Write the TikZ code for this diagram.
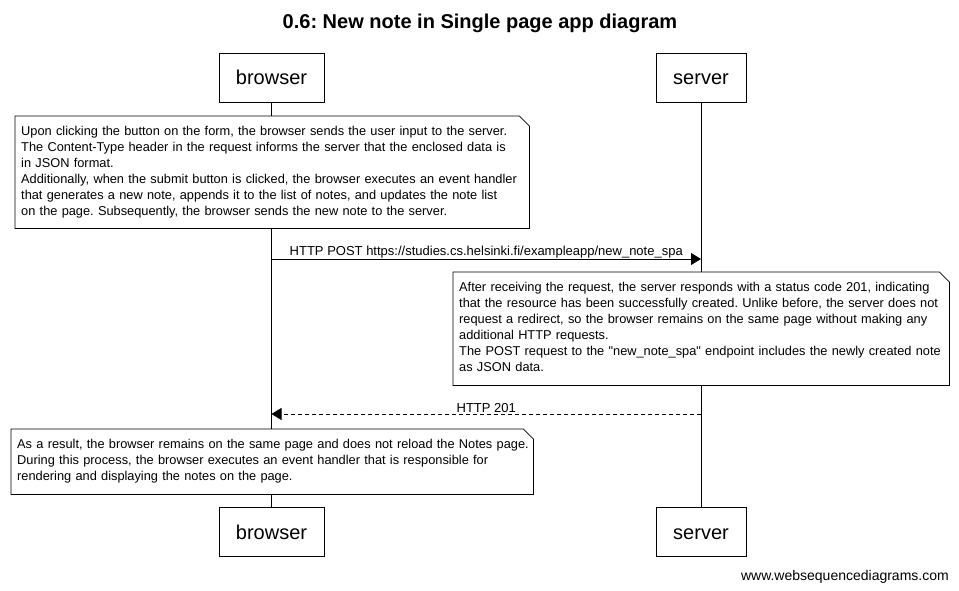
\documentclass[tikz,border=0pt]{standalone}
\usepackage{fontspec}
\setmainfont{Liberation Sans}
\usetikzlibrary{arrows.meta}
\frenchspacing
\tikzset{
  part/.style={draw, line width=0.8pt, minimum height=49pt, inner sep=0pt, text height=19pt, text depth=4pt, font=\fontsize{20}{24}\selectfont},
  notebox/.style={fill=white, draw=none, inner xsep=6pt, inner ysep=0pt, anchor=north west, align=left, font=\fontsize{12.8}{16}\selectfont},
  noteline/.style={line width=0.8pt},
  life/.style={line width=0.8pt},
  msg/.style={line width=0.8pt, -{Triangle[length=10pt,width=12pt]}},
  lbl/.style={font=\fontsize{13}{15}\selectfont, inner sep=0pt},
}
\newcommand\foldoutline[1]{%
  \draw[noteline] (#1.north west) -- ([xshift=-10pt]#1.north east) -- ([yshift=-10pt]#1.north east) -- (#1.south east) -- (#1.south west) -- cycle;}
\begin{document}
\begin{tikzpicture}[x=1pt,y=-1pt]
\useasboundingbox (0,0) rectangle (959,591);
\fill[white] (0,0) rectangle (959,591);
\node[font=\bfseries\fontsize{20}{24}\selectfont] (title) at (480,23) {0.6: New note in Single page app diagram};
% participants
\node[part, minimum width=105pt] (b1) at (271.5,77.5) {browser};
\node[part, minimum width=90pt] (s1) at (701,77.5) {server};
\node[part, minimum width=105pt] (b2) at (271.5,531.5) {browser};
\node[part, minimum width=90pt] (s2) at (701,531.5) {server};
\draw[life] (b1.south) -- (b2.north);
\draw[life] (s1.south) -- (s2.north);
% note 1
\node[notebox, text width=502pt, minimum width=514pt, minimum height=112pt] (n1) at (15,116) {\begin{tabular}{@{}l@{}}Upon clicking the button on the form, the browser sends the user input to the server.\\The Content-Type header in the request informs the server that the enclosed data is\\in JSON format.\\Additionally, when the submit button is clicked, the browser executes an event handler\\that generates a new note, appends it to the list of notes, and updates the note list\\on the page. Subsequently, the browser sends the new note to the server.\end{tabular}};
\foldoutline{n1}
% message 1
\coordinate (m1a) at (271.5,259);
\coordinate (m1b) at (701,259);
\draw[msg] (m1a) -- (m1b) node[lbl, midway, above=0.5pt] (l1) {HTTP POST https://studies.cs.helsinki.fi/exampleapp/new\_note\_spa};
% note 2
\node[notebox, text width=484pt, minimum width=496pt, minimum height=113pt] (n2) at (453,272) {\begin{tabular}{@{}l@{}}After receiving the request, the server responds with a status code 201, indicating\\that the resource has been successfully created. Unlike before, the server does not\\request a redirect, so the browser remains on the same page without making any\\additional HTTP requests.\\The POST request to the \textquotedbl new\_note\_spa\textquotedbl{} endpoint includes the newly created note\\as JSON data.\end{tabular}};
\foldoutline{n2}
% message 2
\coordinate (m2a) at (701,414);
\coordinate (m2b) at (271.5,414);
\draw[msg, dashed, dash pattern=on 4pt off 3pt] (m2a) -- (m2b) node[lbl, midway, above=1pt] (l2) {HTTP 201};
% note 3
\node[notebox, text width=510pt, minimum width=522pt, minimum height=65pt] (n3) at (11,429) {\begin{tabular}{@{}l@{}}As a result, the browser remains on the same page and does not reload the Notes page.\\During this process, the browser executes an event handler that is responsible for\\rendering and displaying the notes on the page.\end{tabular}};
\foldoutline{n3}
\node[font=\fontsize{14}{16}\selectfont, inner sep=0pt, anchor=east] (foot) at (949,577) {www.websequencediagrams.com};
\end{tikzpicture}
\end{document}
